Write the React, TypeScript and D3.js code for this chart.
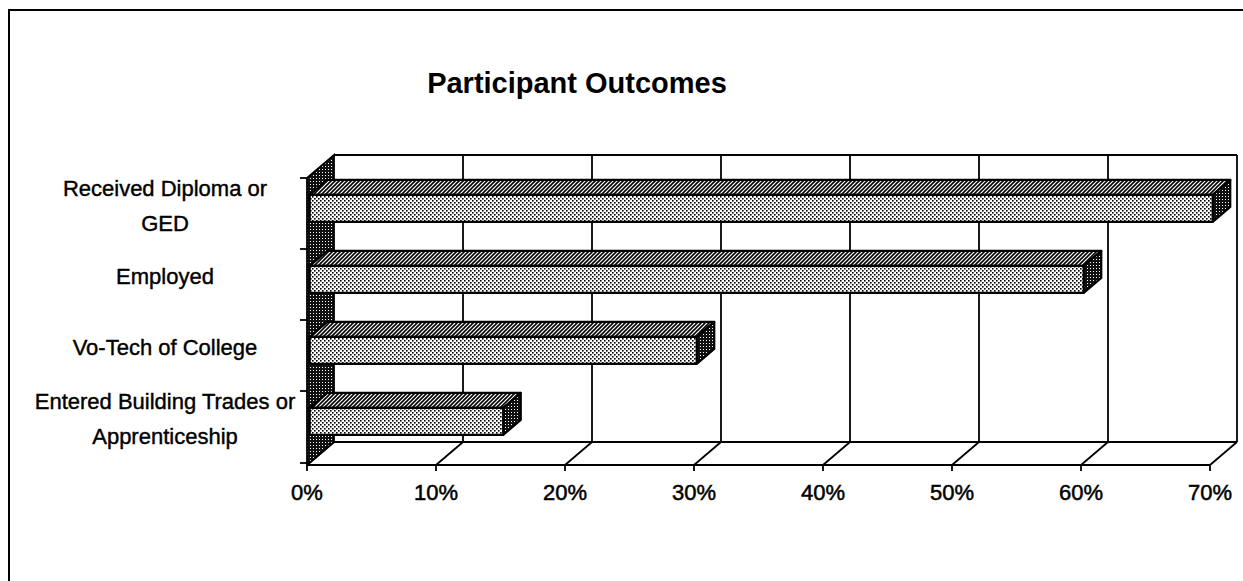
import * as d3 from 'd3'

const categories = [
  'Received Diploma or GED',
  'Employed',
  'Vo-Tech of College',
  'Entered Building Trades or Apprenticeship',
]
const labelLines = [
  ['Received Diploma or', 'GED'],
  ['Employed'],
  ['Vo-Tech of College'],
  ['Entered Building Trades or', 'Apprenticeship'],
]
const values = [0.7, 0.6, 0.3, 0.15]
const ticks = [0, 0.1, 0.2, 0.3, 0.4, 0.5, 0.6, 0.7]

const W = 1243
const H = 581
const DX = 27 // depth offset of the back wall
const DY = 23
const T0 = 0.1 // bar front depth
const T1 = 0.75 // bar back depth
const FONT = 'Arial, "Liberation Sans", sans-serif'

export default function App() {
  const x = d3.scaleLinear().domain([0, 0.7]).range([307, 1210])
  const y = d3.scaleBand<string>().domain(categories).range([178, 462])
  const bw = y.bandwidth()
  const floorY = 465
  const topY = y.range()[0]

  const p = (px: number, py: number, t: number) => [px + t * DX, py - t * DY]
  const poly = (pts: number[][]) => pts.map((q) => q.join(',')).join(' ')

  const x0 = x(0)
  const xMax = x(0.7)

  return (
    <svg
      width={W}
      height={H}
      style={{ position: 'absolute', left: 0, top: 0, background: '#fff' }}
      fontFamily={FONT}
    >
      <defs>
        <pattern id="light" width="4" height="4" patternUnits="userSpaceOnUse">
          <rect width="4" height="4" fill="#fff" />
          <rect x="0" y="0" width="1.6" height="1.6" fill="#000" />
          <rect x="2" y="2" width="1.6" height="1.6" fill="#000" />
        </pattern>
        <pattern id="hatch" width="4" height="4" patternUnits="userSpaceOnUse">
          <rect width="4" height="4" fill="#fff" />
          <path d="M-1,1 l2,-2 M0,4 l4,-4 M3,5 l2,-2" stroke="#000" strokeWidth="1.6" />
        </pattern>
        <pattern id="dark" width="3" height="3" patternUnits="userSpaceOnUse">
          <rect width="3" height="3" fill="#111" />
          <rect x="1" y="1" width="1" height="1" fill="#fff" />
        </pattern>
      </defs>

      {/* outer frame */}
      <rect x={9} y={10} width={W + 20} height={H + 20} fill="none" stroke="#000" strokeWidth={2} />

      {/* title */}
      <text x={577} y={93} textAnchor="middle" fontSize={29} fontWeight="bold">
        Participant Outcomes
      </text>

      {/* back wall */}
      <line x1={x0 + DX} y1={topY - DY} x2={xMax + DX} y2={topY - DY} stroke="#000" strokeWidth={1.8} />
      {ticks.slice(1).map((t) => (
        <line
          key={'g' + t}
          x1={x(t) + DX}
          x2={x(t) + DX}
          y1={topY - DY}
          y2={floorY - DY}
          stroke="#000"
          strokeWidth={1.8}
        />
      ))}

      {/* floor */}
      <line x1={x0 + DX} y1={floorY - DY} x2={xMax + DX} y2={floorY - DY} stroke="#000" strokeWidth={1.8} />
      <line x1={x0} y1={floorY} x2={xMax} y2={floorY} stroke="#000" strokeWidth={2} />
      {ticks.map((t) => (
        <g key={'f' + t}>
          <line x1={x(t)} y1={floorY} x2={x(t) + DX} y2={floorY - DY} stroke="#000" strokeWidth={1.8} />
          <line x1={x(t)} y1={floorY} x2={x(t)} y2={floorY + 6} stroke="#000" strokeWidth={1.8} />
          <text x={x(t)} y={500} textAnchor="middle" fontSize={22} stroke="#000" strokeWidth={0.5}>
            {d3.format('.0%')(t)}
          </text>
        </g>
      ))}

      {/* left wall */}
      <polygon
        points={poly([
          [x0, topY],
          [x0 + DX, topY - DY],
          [x0 + DX, floorY - DY],
          [x0, floorY],
        ])}
        fill="url(#dark)"
        stroke="#000"
        strokeWidth={1.8}
      />

      {/* category ticks */}
      {categories.map((c) => (
        <line key={'t' + c} x1={x0 - 7} x2={x0} y1={y(c)!} y2={y(c)!} stroke="#000" strokeWidth={1.8} />
      ))}
      <line x1={x0 - 7} x2={x0} y1={floorY - 2} y2={floorY - 2} stroke="#000" strokeWidth={1.8} />

      {/* bars */}
      {categories.map((c, i) => {
        const b = y(c)!
        const y0 = b + 0.27 * bw
        const y1 = y0 + 0.38 * bw
        const xv = x(values[i])
        const front = [p(x0, y0, T0), p(xv, y0, T0), p(xv, y1, T0), p(x0, y1, T0)]
        const top = [p(x0, y0, T0), p(xv, y0, T0), p(xv, y0, T1), p(x0, y0, T1)]
        const end = [p(xv, y0, T0), p(xv, y0, T1), p(xv, y1, T1), p(xv, y1, T0)]
        return (
          <g key={'b' + c} stroke="#000" strokeWidth={2.2} strokeLinejoin="round">
            <polygon points={poly(top)} fill="url(#hatch)" />
            <polygon points={poly(end)} fill="url(#dark)" />
            <polygon points={poly(front)} fill="url(#light)" />
          </g>
        )
      })}

      {/* category labels */}
      {categories.map((c, i) => {
        const lines = labelLines[i]
        const center = y(c)! + bw / 2 - 8.5
        const lh = 35
        const first = center - ((lines.length - 1) * lh) / 2 + 8
        return (
          <text key={'l' + c} x={165} textAnchor="middle" fontSize={22} stroke="#000" strokeWidth={0.4}>
            {lines.map((s, j) => (
              <tspan key={j} x={165} y={first + j * lh}>
                {s}
              </tspan>
            ))}
          </text>
        )
      })}
    </svg>
  )
}
